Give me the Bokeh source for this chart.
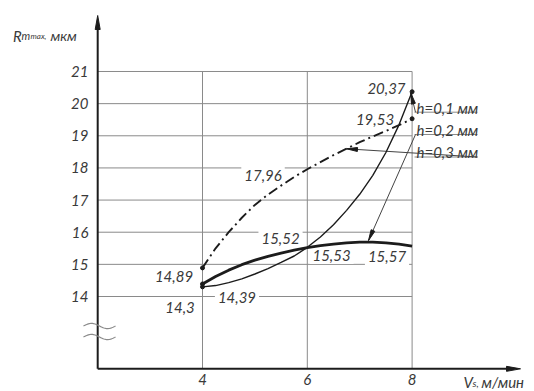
import numpy as np
from bokeh.plotting import figure
from bokeh.models import Range1d
from bokeh.core.properties import value
from bokeh.embed import file_html
from bokeh.resources import INLINE

# Cutting speed Vs, m/min
v = [4.0, 4.25, 4.5, 4.75, 5.0, 5.25, 5.5, 5.75, 6.0,
     6.25, 6.5, 6.75, 7.0, 7.25, 7.5, 7.75, 8.0]

# Rm max, um, for three values of h
rm_h01 = [14.30, 14.34, 14.43, 14.55, 14.70, 14.87, 15.06, 15.26, 15.53,
          15.85, 16.23, 16.68, 17.18, 17.77, 18.48, 19.34, 20.37]
rm_h02 = [14.39, 14.62, 14.82, 14.99, 15.13, 15.25, 15.35, 15.44, 15.52,
          15.58, 15.63, 15.67, 15.69, 15.69, 15.67, 15.63, 15.57]
rm_h03 = [14.89, 15.50, 16.00, 16.45, 16.85, 17.17, 17.45, 17.72, 17.96,
          18.18, 18.40, 18.60, 18.80, 18.98, 19.15, 19.33, 19.53]

x_ticks = [4, 6, 8]
y_ticks = [14, 15, 16, 17, 18, 19, 20, 21]

# value callouts: text, anchor (x, y), white backing
callouts = [
    ("20,37", 7.511, 20.456, False),
    ("19,53", 7.292, 19.522, False),
    ("17,96", 5.155, 17.764, True),
    ("15,52", 5.489, 15.789, True),
    ("15,53", 6.462, 15.276, True),
    ("15,57", 7.521, 15.244, True),
    ("14,89", 3.456, 14.622, False),
    ("14,3", 3.571, 13.673, False),
    ("14,39", 4.658, 13.984, True),
]

legend_text = ["h=0,1 мм", "h=0,2 мм", "h=0,3 мм"]

FONT = "Lato"
INK = "#1c1c1c"
TXT = "#3a3a3a"
GRID = "#8a8a8a"

# drawing scale (pixels per unit) and canvas extent in data units
SX = 52.4
SY = 32.143
XL = 4 - 202 / SX
YB = 14 - 95 / SY
X0, Y0 = 2.0, 11.75            # axes origin
X_END, Y_END = 10.069, 22.742  # arrow tips of the axes


def px(x_pix):
    return XL + x_pix / SX


def py(y_pix):
    return YB + (391 - y_pix) / SY


p = figure(width=534, height=391, output_backend="svg", toolbar_location=None,
           title=None, tools="", x_axis_type=None, y_axis_type=None,
           x_range=Range1d(XL, XL + 534 / SX), y_range=Range1d(YB, YB + 391 / SY),
           min_border=0)
p.outline_line_color = None
p.background_fill_color = "white"
p.border_fill_color = "white"

txt_kw = dict(text_font=value(FONT), text_font_style="italic", text_color=TXT)

# grid
p.segment(x0=[X0] * len(y_ticks), y0=y_ticks, x1=[8] * len(y_ticks), y1=y_ticks,
          line_color=GRID, line_width=1)
p.segment(x0=x_ticks, y0=[Y0] * len(x_ticks), x1=x_ticks, y1=[21] * len(x_ticks),
          line_color=GRID, line_width=1)

# tick labels
p.text(x=[px(88)] * len(y_ticks), y=y_ticks, text=[str(t) for t in y_ticks],
       text_font_size="15px", text_align="right", text_baseline="middle", **txt_kw)
p.text(x=x_ticks, y=[py(373)] * len(x_ticks), text=[str(t) for t in x_ticks],
       text_font_size="15px", text_align="center", text_baseline="top", **txt_kw)


def head(tail, tip, length=10, width=4):
    dx = (tip[0] - tail[0]) * SX
    dy = (tip[1] - tail[1]) * SY
    n = np.hypot(dx, dy)
    ux, uy = dx / n, dy / n
    bx, by = -ux * length, -uy * length
    qx, qy = -uy * width / 2, ux * width / 2
    xs = [tip[0], tip[0] + (bx + qx) / SX, tip[0] + (bx - qx) / SX]
    ys = [tip[1], tip[1] + (by + qy) / SY, tip[1] + (by - qy) / SY]
    return xs, ys


# axes with arrows
p.segment(x0=[X0, X0], y0=[Y0, Y0], x1=[X0, X_END - 8 / SX], y1=[Y_END - 8 / SY, Y0],
          line_color=INK, line_width=2)
hx1, hy1 = head((X0, Y0), (X0, Y_END), 14, 5)
hx2, hy2 = head((X0, Y0), (X_END, Y0), 14, 5)
p.patches(xs=[hx1, hx2], ys=[hy1, hy2], fill_color=INK, line_color=INK, line_width=1)

# axis break marks
t = np.linspace(0, 2 * np.pi, 40)
wx = list(px(83) + (px(115) - px(83)) * t / (2 * np.pi))
for yc in (py(325.5), py(336.5)):
    p.line(wx, list(yc + 2.6 / SY * np.sin(t)), line_color=GRID, line_width=1.2)

# value callouts
for bg in (False, True):
    rows = [c for c in callouts if c[3] == bg]
    kw = dict(background_fill_color="white", padding=3) if bg else {}
    p.text(x=[r[1] for r in rows], y=[r[2] for r in rows], text=[r[0] for r in rows],
           text_font_size="15px", text_align="center", text_baseline="middle",
           **txt_kw, **kw)

# legend shelves and leaders
shelf_y = [py(111.7), py(134), py(156.5)]
p.segment(x0=[px(414)] * 3, y0=shelf_y, x1=[px(477)] * 3, y1=shelf_y,
          line_color=GRID, line_width=1)
p.text(x=[px(416)] * 3, y=[py(107.5), py(129.5), py(151.5)], text=legend_text,
       text_font_size="15px", text_align="left", text_baseline="alphabetic", **txt_kw)

leaders = [((px(415), py(111.7)), (7.975, 20.33)),
           ((px(415), py(134)), (7.168, 15.74)),
           ((px(477), py(156.5)), (6.748, 18.595))]
p.segment(x0=[a[0][0] for a in leaders], y0=[a[0][1] for a in leaders],
          x1=[a[1][0] for a in leaders], y1=[a[1][1] for a in leaders],
          line_color="#444444", line_width=1)
heads = [head(a, b, 11, 4) for a, b in leaders]
p.patches(xs=[h[0] for h in heads], ys=[h[1] for h in heads],
          fill_color=INK, line_color=INK, line_width=1)

# curves
p.line(v, rm_h01, line_color=INK, line_width=1.4)
p.line(v, rm_h02, line_color=INK, line_width=2.8)
p.line(v, rm_h03, line_color=INK, line_width=1.9, line_dash="10 4 2 4")
p.scatter([v[0], v[0], v[0], v[-1], v[-1]],
          [rm_h01[0], rm_h02[0], rm_h03[0], rm_h01[-1], rm_h03[-1]],
          size=4, color=INK)

# axis titles
p.text(x=[px(12.5), px(21), px(30), px(50)], y=[py(35)] * 4,
       text=["R", "m", "max,", "мкм"], text_align="left", text_baseline="alphabetic",
       text_font_size=["15px", "11px", "8px", "14px"], **txt_kw)
p.text(x=[px(463), px(472), px(481)], y=[py(381), py(382), py(381)],
       text=["V", "s,", "м/мин"], text_align="left", text_baseline="alphabetic",
       text_font_size=["15px", "10px", "15px"], **txt_kw)

open("out.html", "w").write(file_html(p, INLINE))
